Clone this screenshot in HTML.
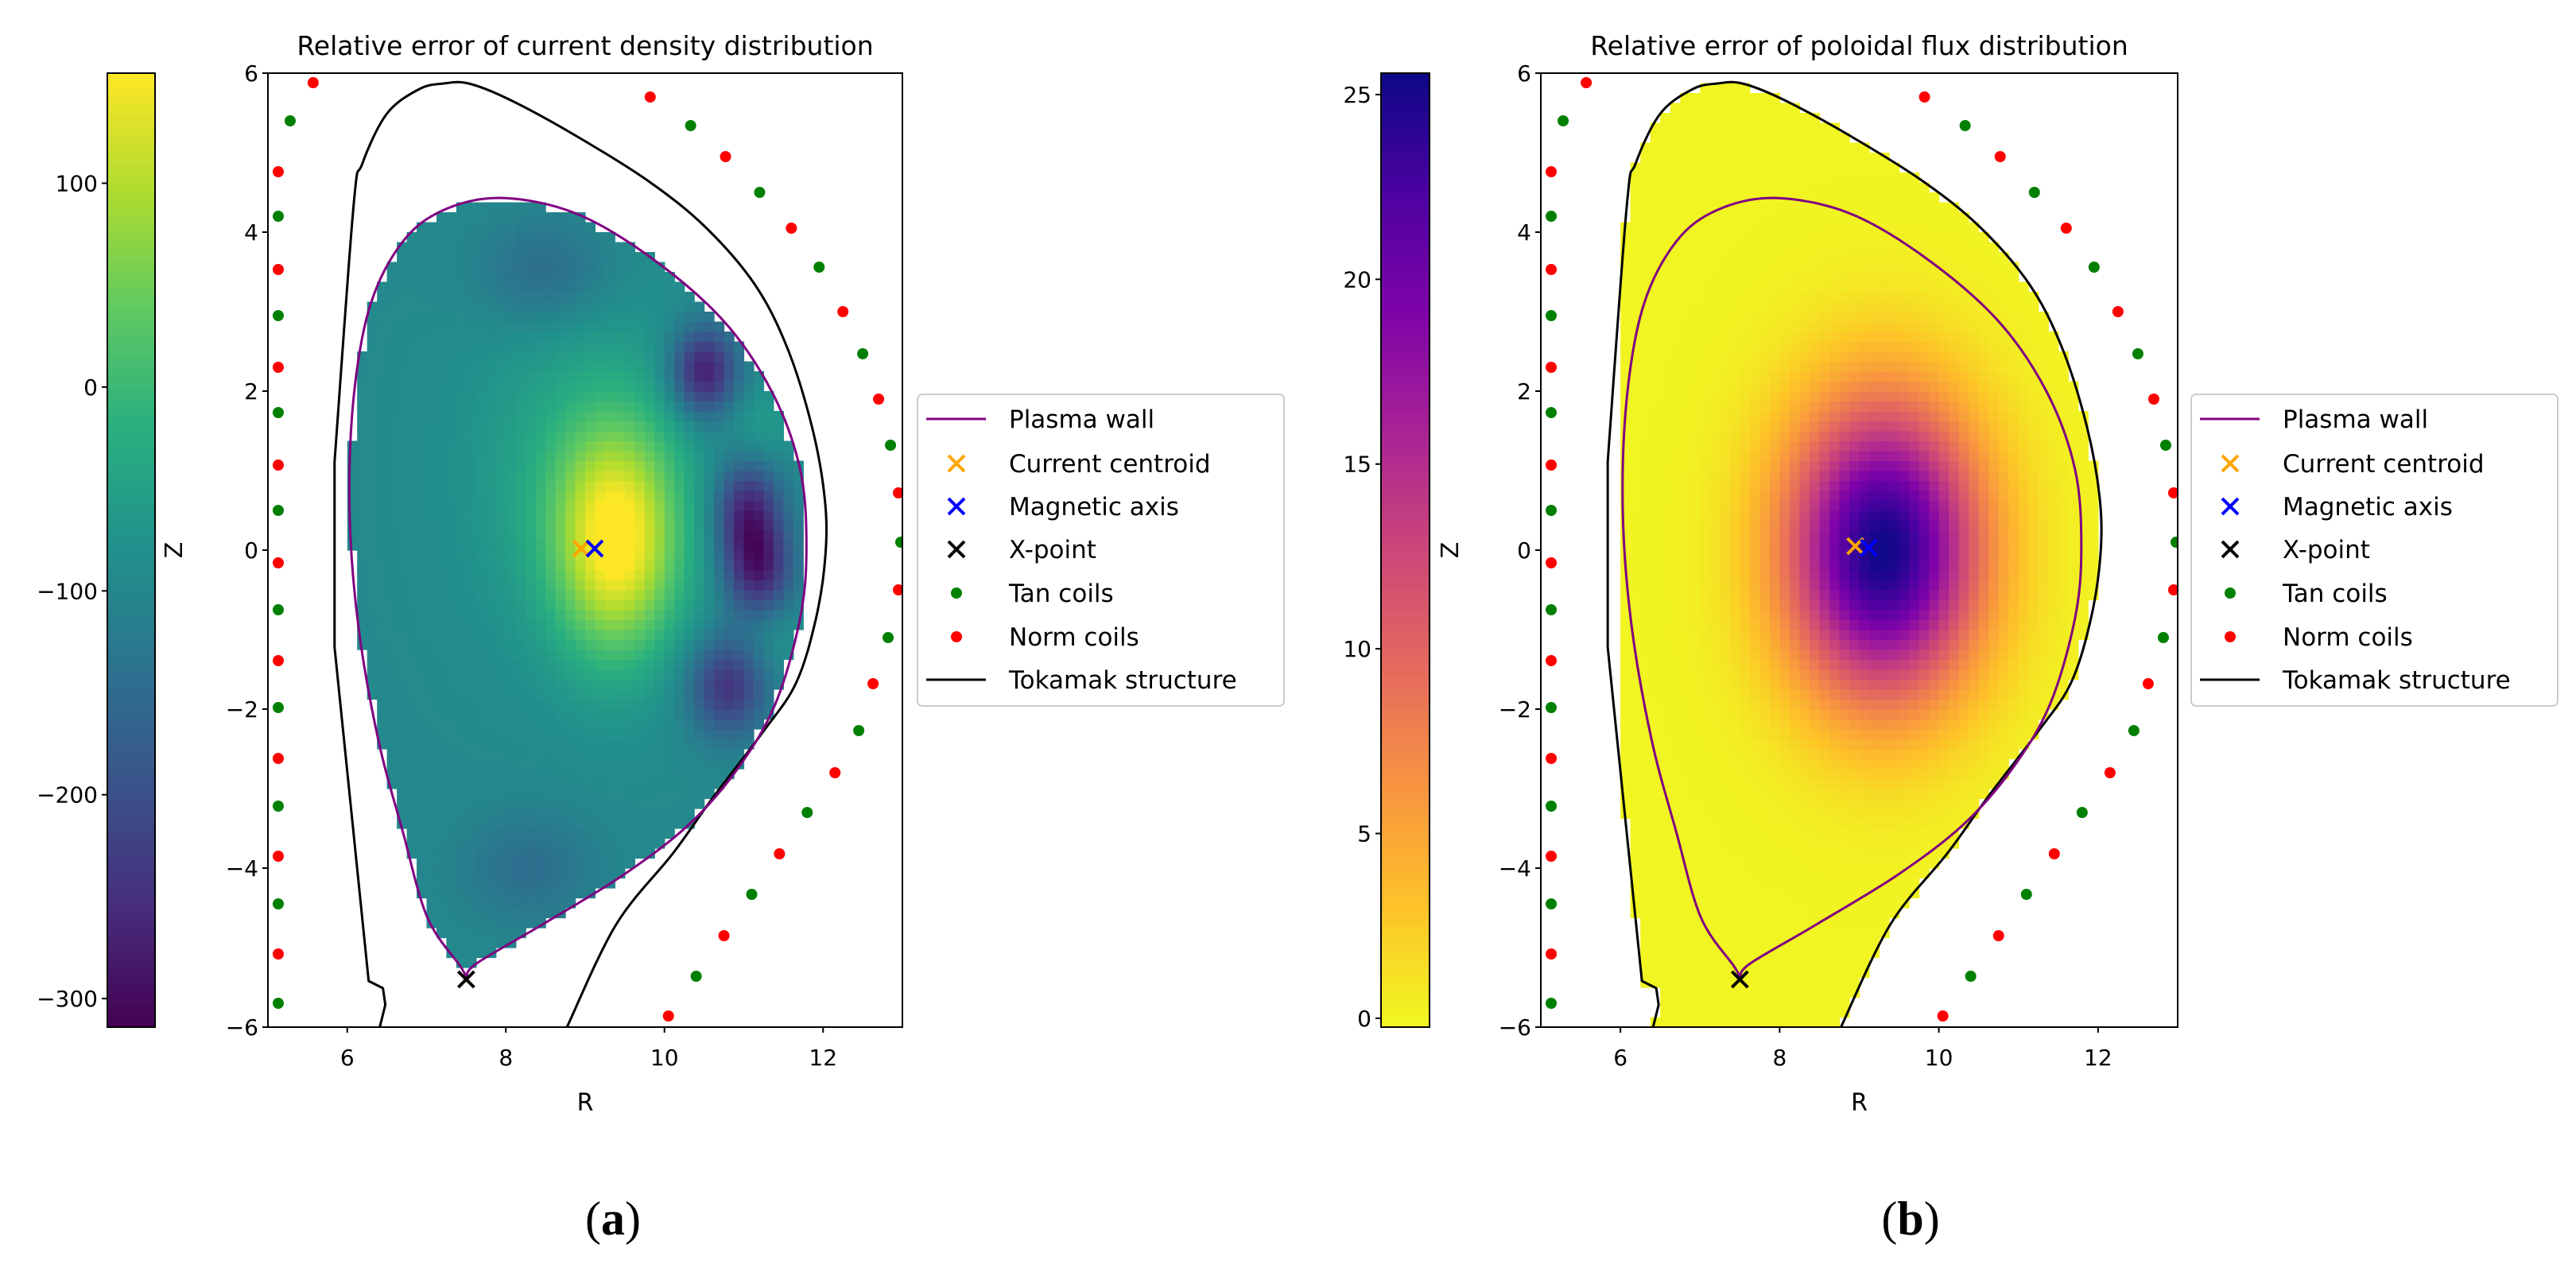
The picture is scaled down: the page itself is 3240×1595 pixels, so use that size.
<!DOCTYPE html>
<html><head><meta charset="utf-8"><style>
body{margin:0;background:#fff}
svg text{font-family:"DejaVu Sans","Liberation Sans",sans-serif;fill:#000}
</style></head><body>
<svg id="fig" xmlns="http://www.w3.org/2000/svg" width="3240" height="1590" viewBox="0 0 3240 1590"></svg>
<script>
// ---------- data ----------
const rTicks=[6,8,10,12];
const zTicks=[-6,-4,-2,0,2,4,6];
const cbTicksA=[-300,-200,-100,0,100];
const cbTicksB=[0,5,10,15,20,25];
const cbRangeA=[-314,154];
const cbRangeB=[-0.24,25.58];
const wallR=[7.5,7.43,7.01,6.70,6.39,6.14,6.03,6.08,6.29,6.70,7.22,7.94,8.87,9.80,10.73,11.35,11.71,11.79,11.71,11.40,10.93,10.31,9.49,8.46,7.63,7.5];
const wallZ=[-5.38,-5.24,-4.62,-3.54,-2.38,-0.95,0.48,1.91,3.08,3.88,4.28,4.43,4.24,3.70,2.90,2.0,1.02,0.03,-0.86,-1.93,-2.74,-3.45,-4.08,-4.71,-5.2,-5.38];
const strR=[6.41,6.48,6.45,6.27,5.84,5.84,6.08,6.19,6.5,6.91,7.22,7.53,8.04,8.87,9.8,10.52,11.14,11.55,11.86,12.02,12.03,11.91,11.66,11.24,10.62,10.11,9.39,8.77];
const strZ=[-6,-5.72,-5.51,-5.42,-1.22,1.11,4.33,4.86,5.49,5.8,5.87,5.87,5.67,5.22,4.64,4.06,3.34,2.54,1.55,0.66,-0.06,-0.86,-1.67,-2.29,-3.1,-3.81,-4.71,-6];
const tanR=[5.28,5.13,5.13,5.13,5.13,5.13,5.13,5.13,5.13,5.13,10.33,11.2,11.95,12.5,12.85,12.98,12.82,12.45,11.8,11.1,10.4];
const tanZ=[5.4,4.2,2.95,1.73,0.5,-0.75,-1.98,-3.22,-4.45,-5.7,5.34,4.5,3.56,2.47,1.32,0.1,-1.1,-2.27,-3.3,-4.33,-5.36];
const normR=[5.57,5.13,5.13,5.13,5.13,5.13,5.13,5.13,5.13,5.13,9.82,10.77,11.6,12.25,12.7,12.95,12.95,12.63,12.15,11.45,10.75,10.05];
const normZ=[5.88,4.76,3.53,2.3,1.07,-0.16,-1.39,-2.62,-3.85,-5.08,5.7,4.95,4.05,3.0,1.9,0.72,-0.5,-1.68,-2.8,-3.82,-4.85,-5.86];
const centroidA=[8.95,0.02], magAxisA=[9.12,0.02], xPoint=[7.5,-5.4];
const centroidB=[8.95,0.05], magAxisB=[9.12,0.03];
const baseA=-95;
const blobR=[9.4,9.0,10.5,11.05,11.2,10.8,8.5,8.3,11.2,11.3];
const blobZ=[0.1,1.0,2.25,0.5,-0.3,-1.7,3.5,-4.0,1.5,-1.0];
const blobA=[230,60,-190,-170,-160,-150,-60,-50,40,40];
const blobSR=[0.55,1.0,0.3,0.3,0.3,0.35,0.6,0.6,0.3,0.3];
const blobSZ=[1.0,1.5,0.4,0.5,0.45,0.45,0.5,0.5,0.4,0.4];
const peakB=[9.3,0.0,25.5,0.85,1.3];

// ---------- helpers ----------
const NS='http://www.w3.org/2000/svg';
const svg=document.getElementById('fig');
function el(tag,attrs,parent){const e=document.createElementNS(NS,tag);for(const k in attrs)e.setAttribute(k,attrs[k]);(parent||svg).appendChild(e);return e;}
function lerpCol(stops,t){t=Math.max(0,Math.min(1,t));const n=stops.length-1;const i=Math.min(n-1,Math.floor(t*n));const f=t*n-i;const a=stops[i],b=stops[i+1];
 const h=s=>[parseInt(s.substr(1,2),16),parseInt(s.substr(3,2),16),parseInt(s.substr(5,2),16)];const A=h(a),B=h(b);
 return 'rgb('+A.map((v,k)=>Math.round(v+(B[k]-v)*f)).join(',')+')';}
const viridis=['#440154','#472d7b','#3b528b','#2c728e','#21918c','#28ae80','#5ec962','#addc30','#fde725'];
const plasma=['#0d0887','#4c02a1','#7e03a8','#a92395','#cc4778','#e56b5d','#f89540','#fdc328','#f0f921'];
function pip(x,y,X,Y){let c=false;for(let i=0,j=X.length-1;i<X.length;j=i++){if(((Y[i]>y)!=(Y[j]>y))&&(x<(X[j]-X[i])*(y-Y[i])/(Y[j]-Y[i])+X[i]))c=!c;}return c;}
function smoothSeg(P){let d='';
 for(let i=0;i<P.length-1;i++){const p0=P[Math.max(0,i-1)],p1=P[i],p2=P[i+1],p3=P[Math.min(P.length-1,i+2)];
  const c1=[p1[0]+(p2[0]-p0[0])/6,p1[1]+(p2[1]-p0[1])/6],c2=[p2[0]-(p3[0]-p1[0])/6,p2[1]-(p3[1]-p1[1])/6];
  d+=`C${c1[0].toFixed(1)},${c1[1].toFixed(1)} ${c2[0].toFixed(1)},${c2[1].toFixed(1)} ${p2[0].toFixed(1)},${p2[1].toFixed(1)}`;}
 return d;}
function smoothPath(P){return `M${P[0][0]},${P[0][1]}`+smoothSeg(P);}
function mixedPath(P,k){let d=`M${P[0][0]},${P[0][1]}`;for(let i=1;i<=k;i++)d+=`L${P[i][0]},${P[i][1]}`;return d+smoothSeg(P.slice(k));}

function panel(o){
 const g=el('g',{},svg);
 
 
 const sx=r=>o.x0+(r-5)*(o.x1-o.x0)/8;
 const sy=z=>92+(6-z)*100;
 const hm=el('g',{},g);
 
 
 const d=0.125;
 for(let r=5;r<13;r+=d){for(let z=-6;z<6;z+=d){
  const cr=r+d/2,cz=z+d/2;
  let v=o.value(cr,cz); if(v===null)continue;
  const col=o.color(v);
  const c=el('rect',{x:sx(r).toFixed(1),y:sy(z+d).toFixed(1),width:(sx(r+d)-sx(r)+0.6).toFixed(1),height:(sy(z)-sy(z+d)+0.6).toFixed(1),fill:col},hm);
  
  
 }}
 const cid='clip'+o.x0;
 const cp=el('clipPath',{id:cid},g);el('rect',{x:o.x0,y:92,width:o.x1-o.x0,height:1200},cp);
 const lg=el('g',{'clip-path':'url(#'+cid+')'},g);
 const st=el('path',{d:mixedPath(strR.map((r,i)=>[sx(r),sy(strZ[i])]),5),fill:'none',stroke:'#000','stroke-width':3,'stroke-linejoin':'round'},lg);
 
 
 const wl=el('path',{d:smoothPath(wallR.map((r,i)=>[sx(r),sy(wallZ[i])])),fill:'none',stroke:'#800080','stroke-width':3,'stroke-linejoin':'round'},lg);
 
 
 tanR.forEach((r,i)=>{const c=el('circle',{cx:sx(r),cy:sy(tanZ[i]),r:7,fill:'#008000'},lg);
  
  });
 normR.forEach((r,i)=>{const c=el('circle',{cx:sx(r),cy:sy(normZ[i]),r:7,fill:'#ff0000'},lg);
  
  });
 function cross(p,col,nm){const x=sx(p[0]),y=sy(p[1]),s=10;
  const c=el('path',{d:`M${x-s},${y-s}L${x+s},${y+s}M${x-s},${y+s}L${x+s},${y-s}`,stroke:col,'stroke-width':4},lg);
  
  }
 cross(o.centroid,'#ffa500','current-centroid');
 cross(o.mag,'#0000ff','magnetic-axis');
 cross(xPoint,'#000','x-point');
 el('rect',{x:o.x0,y:92,width:o.x1-o.x0,height:1200,fill:'none',stroke:'#000','stroke-width':2},g);
 rTicks.forEach(t=>{el('line',{x1:sx(t),x2:sx(t),y1:1292,y2:1299,stroke:'#000','stroke-width':2},g);
  const tx=el('text',{x:sx(t),y:1340,'font-size':28,'text-anchor':'middle'},g);tx.textContent=t;
  
  });
 zTicks.forEach(t=>{el('line',{x1:o.x0-7,x2:o.x0,y1:sy(t),y2:sy(t),stroke:'#000','stroke-width':2},g);
  const tx=el('text',{x:o.x0-12,y:sy(t)+10,'font-size':28,'text-anchor':'end'},g);tx.textContent=String(t).replace('-','\u2212');
  
  });
 const xl=el('text',{x:(o.x0+o.x1)/2,y:1397,'font-size':30,'text-anchor':'middle'},g);xl.textContent='R';
 
 
 const yl=el('text',{x:o.zx,y:692,'font-size':30,'text-anchor':'middle',transform:`rotate(-90 ${o.zx} 692)`},g);yl.textContent='Z';
 
 
 const tt=el('text',{x:(o.x0+o.x1)/2,y:69,'font-size':33,'text-anchor':'middle'},g);tt.textContent=o.title;
 
 
 const cb=el('g',{},g);
 
 
 const [lo,hi]=o.cbRange;const cby=v=>1292-(v-lo)/(hi-lo)*1200;
 for(let i=0;i<240;i++){const v0=lo+(hi-lo)*i/240,v1=lo+(hi-lo)*(i+1)/240;
  el('rect',{x:o.cbx,y:cby(v1),width:o.cbw,height:cby(v0)-cby(v1)+0.8,fill:o.color((v0+v1)/2)},cb);}
 el('rect',{x:o.cbx,y:92,width:o.cbw,height:1200,fill:'none',stroke:'#000','stroke-width':2},cb);
 o.cbTicks.forEach(t=>{el('line',{x1:o.cbx-7,x2:o.cbx,y1:cby(t),y2:cby(t),stroke:'#000','stroke-width':2},cb);
  const tx=el('text',{x:o.cbx-12,y:cby(t)+10,'font-size':28,'text-anchor':'end'},cb);tx.textContent=String(t).replace('-','\u2212');
  
  });
 const L=el('g',{},g);
 
 
 const lx=o.lx;
 el('rect',{x:lx,y:496,width:461,height:392,rx:6,fill:'#fff','fill-opacity':0.8,stroke:'#ccc','stroke-width':2},L);
 const items=[['Plasma wall','line','#800080'],['Current centroid','x','#ffa500'],['Magnetic axis','x','#0000ff'],['X-point','x','#000'],['Tan coils','dot','#008000'],['Norm coils','dot','#ff0000'],['Tokamak structure','line','#000']];
 const ys=[527,583,637,691,746,801,855];
 items.forEach((it,i)=>{const y=ys[i],mx=lx+49;
  if(it[1]=='line')el('line',{x1:lx+11,x2:lx+86,y1:y,y2:y,stroke:it[2],'stroke-width':3},L);
  else if(it[1]=='x')el('path',{d:`M${mx-10},${y-10}L${mx+10},${y+10}M${mx-10},${y+10}L${mx+10},${y-10}`,stroke:it[2],'stroke-width':4},L);
  else el('circle',{cx:mx,cy:y,r:7,fill:it[2]},L);
  const tx=el('text',{x:lx+115,y:y+11,'font-size':31},L);tx.textContent=it[0];
  
  });
 const sub=el('text',{x:o.subx,y:1553,'font-size':60,'text-anchor':'middle',style:'font-family:"Liberation Serif",serif'},g);
 sub.innerHTML='(<tspan font-weight="bold">'+o.sub+'</tspan>)';
 
 
}

panel({name:'panel-current-density',x0:337,x1:1135,zx:229,cbx:135,cbw:60,lx:1154,subx:771,sub:'a',
 title:'Relative error of current density distribution',cbRange:cbRangeA,cbTicks:cbTicksA,centroid:centroidA,mag:magAxisA,
 color:v=>lerpCol(viridis,(v-cbRangeA[0])/(cbRangeA[1]-cbRangeA[0])),
 value:(r,z)=>{if(!pip(r,z,wallR,wallZ))return null;let v=baseA;
  for(let i=0;i<blobR.length;i++)v+=blobA[i]*Math.exp(-((r-blobR[i])**2/(2*blobSR[i]**2)+(z-blobZ[i])**2/(2*blobSZ[i]**2)));return v;}});
panel({name:'panel-poloidal-flux',x0:1938,x1:2739,zx:1834,cbx:1737,cbw:61,lx:2756,subx:2403,sub:'b',
 title:'Relative error of poloidal flux distribution',cbRange:cbRangeB,cbTicks:cbTicksB,centroid:centroidB,mag:magAxisB,
 color:v=>lerpCol(plasma,1-(v-cbRangeB[0])/(cbRangeB[1]-cbRangeB[0])),
 value:(r,z)=>{const R=[...strR,5],Z=[...strZ,-6];if(!pip(r,z,R,Z)||r<6.0)return null;
  return peakB[2]*Math.exp(-((r-peakB[0])**2/(2*peakB[3]**2)+(z-peakB[1])**2/(2*peakB[4]**2)));}});
</script>
</body></html>
